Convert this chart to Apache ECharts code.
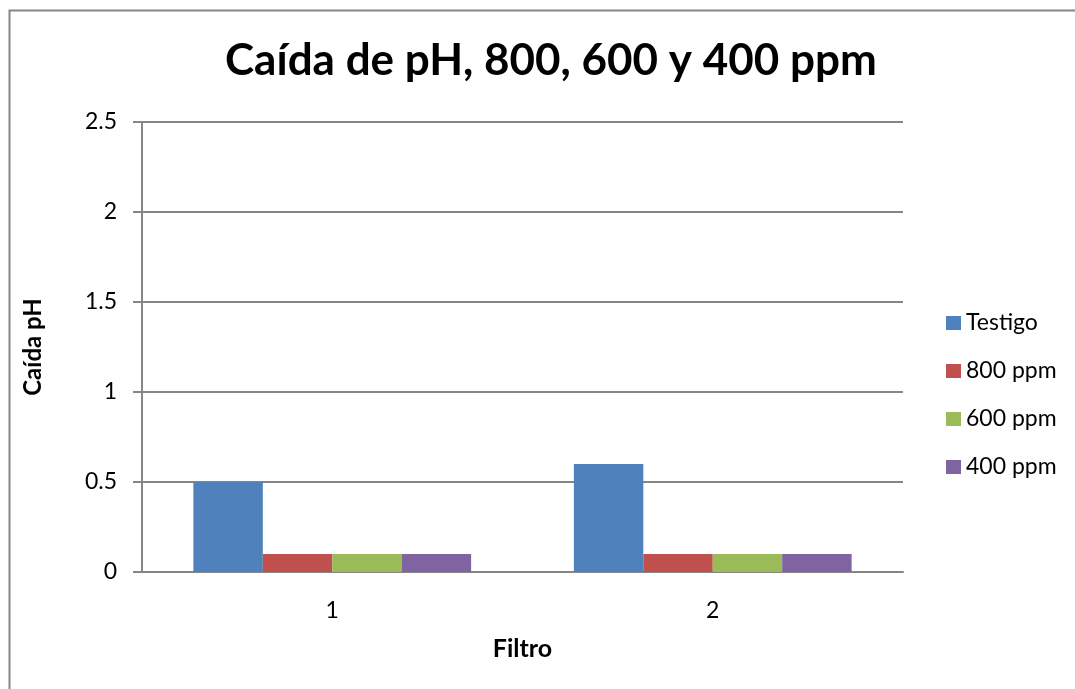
<!DOCTYPE html>
<html>
<head>
<meta charset="utf-8">
<script src="https://cdn.jsdelivr.net/npm/echarts@6/dist/echarts.min.js"></script>
<style>html,body{margin:0;padding:0;background:#fff;}#c{width:1075px;height:689px;}</style>
</head>
<body>
<div id="c"></div>
<script>
const categories = ['1', '2'];
const seriesNames = ['Testigo', '800 ppm', '600 ppm', '400 ppm'];
const testigo = [0.5, 0.6];
const ppm800 = [0.1, 0.1];
const ppm600 = [0.1, 0.1];
const ppm400 = [0.1, 0.1];
const colors = ['#4F81BD', '#C0504D', '#9BBB59', '#8064A2'];
const FONT = 'Lato, "Open Sans", sans-serif';

const chart = echarts.init(document.getElementById('c'), null, {renderer: 'canvas'});
const values = [testigo, ppm800, ppm600, ppm400];
chart.setOption({
  animation: false,
  backgroundColor: '#fff',
  color: colors,
  graphic: [{
    type: 'rect', shape: {x: 9.5, y: 10.5, width: 1100, height: 700},
    style: {fill: 'none', stroke: '#868686', lineWidth: 2}, silent: true, z: -1
  }],
  title: {
    text: 'Caída de pH, 800, 600 y 400 ppm',
    left: 220, top: 34,
    textStyle: {fontFamily: FONT, fontWeight: 'bold', fontSize: 44, color: '#000'}
  },
  legend: {
    orient: 'vertical', left: 941, top: 306,
    itemWidth: 15, itemHeight: 14, itemGap: 24,
    icon: 'rect',
    data: seriesNames,
    textStyle: {fontFamily: FONT, fontSize: 23, lineHeight: 24, color: '#000'}
  },
  grid: {left: 142, right: 172, top: 122, bottom: 117, containLabel: false},
  xAxis: {
    type: 'category', data: categories,
    name: 'Filtro', nameLocation: 'middle', nameGap: 64,
    nameTextStyle: {fontFamily: FONT, fontWeight: 'bold', fontSize: 25, color: '#000'},
    axisLine: {lineStyle: {color: '#868686', width: 2}},
    axisTick: {show: false},
    axisLabel: {fontFamily: FONT, fontSize: 23, color: '#000', margin: 27}
  },
  yAxis: {
    type: 'value', min: 0, max: 2.5, interval: 0.5,
    name: 'Caída pH', nameLocation: 'middle', nameGap: 97,
    nameTextStyle: {fontFamily: FONT, fontWeight: 'bold', fontSize: 24, color: '#000'},
    axisLine: {show: true, lineStyle: {color: '#868686', width: 2}},
    axisTick: {show: true, length: 9, lineStyle: {color: '#868686', width: 2}},
    splitLine: {lineStyle: {color: '#868686', width: 2}},
    axisLabel: {fontFamily: FONT, fontSize: 23, color: '#000', margin: 25}
  },
  series: seriesNames.map((n, i) => ({
    name: n, type: 'bar', data: values[i],
    barGap: '0%', barCategoryGap: '27%',
    itemStyle: {color: colors[i]}
  }))
});
</script>
</body>
</html>
